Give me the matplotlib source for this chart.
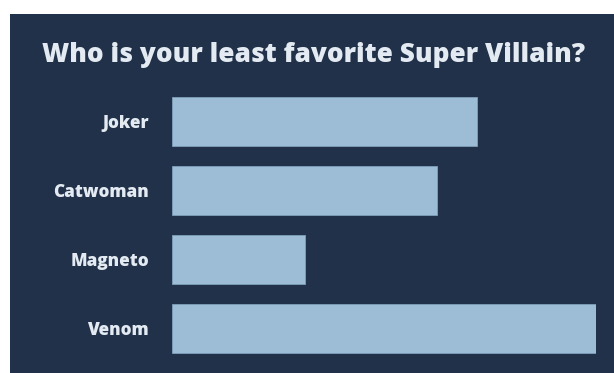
import matplotlib.pyplot as plt

villains = ["Joker", "Catwoman", "Magneto", "Venom"]
votes = [23, 20, 10, 32]

bg = "#213149"
bar_color = "#9dbdd6"
text_color = "#e3eaf2"

fig = plt.figure(figsize=(6.14, 3.73), dpi=100)
fig.patch.set_facecolor("white")

# dark panel behind the chart
panel = fig.add_axes([10 / 614, 0, 1, 1 - 14 / 373], zorder=0)
panel.set_facecolor(bg)
panel.set_xticks([])
panel.set_yticks([])
for s in panel.spines.values():
    s.set_visible(False)

ax = fig.add_axes([172 / 614, 10 / 373, 424 / 614, 276 / 373], zorder=1)
ax.set_facecolor("none")
ax.barh(range(len(villains)), votes, height=0.71, color=bar_color,
        edgecolor="#7f9fbb", linewidth=0.6)
ax.set_xlim(0, 32)
ax.set_ylim(3.5, -0.5)
ax.set_yticks(range(len(villains)))
ax.set_yticklabels(villains, fontsize=12.3, fontweight="heavy",
                   color=text_color, family="Open Sans")
ax.tick_params(axis="y", length=0, pad=16.5)
ax.set_xticks([])
for s in ax.spines.values():
    s.set_visible(False)

fig.text(314 / 614, 1 - 55 / 373, "Who is your least favorite Super Villain?",
         ha="center", va="center", fontsize=18.9, fontweight="heavy",
         color=text_color, family="Open Sans", zorder=2)

fig.savefig("out.png", dpi=100, facecolor=fig.get_facecolor())
